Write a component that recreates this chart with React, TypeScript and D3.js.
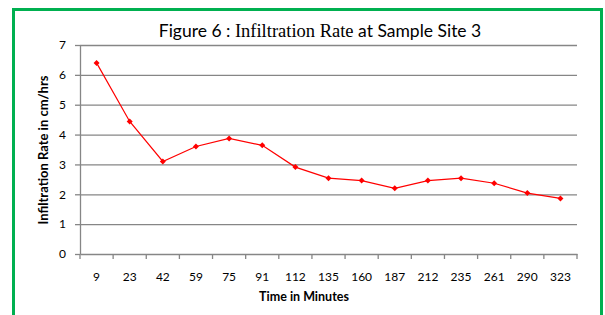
import { useEffect, useRef } from "react";
import { axisBottom, axisLeft, scaleBand, scaleLinear, select, line, symbol, symbolSquare } from "d3";

const times = ["9", "23", "42", "59", "75", "91", "112", "135", "160", "187", "212", "235", "261", "290", "323"];
const rates = [6.4, 4.44, 3.1, 3.6, 3.87, 3.64, 2.91, 2.54, 2.46, 2.2, 2.46, 2.54, 2.37, 2.04, 1.86];
const yTicks = [0, 1, 2, 3, 4, 5, 6, 7];

const grey = "#868686";
const sans = "Lato, 'Open Sans', sans-serif";

function AxisBottom({ scale, y }) {
  const ref = useRef(null);
  useEffect(() => {
    if (!ref.current) return;
    const g = select(ref.current);
    // Excel puts ticks between categories, labels in the middle
    const edges = scale.domain().map((d) => scale(d)).concat([scale.range()[1]]);
    const ax = axisBottom(scale).tickSize(0).tickPadding(18);
    g.call(ax);
    g.select(".domain").attr("stroke", grey).attr("stroke-width", 1.3);
    g.selectAll(".tick text").attr("font-family", sans).attr("font-size", 12).attr("fill", "#000");
    g.selectAll("line.edge")
      .data(edges)
      .join("line")
      .attr("class", "edge")
      .attr("x1", (d) => d)
      .attr("x2", (d) => d)
      .attr("y1", 0)
      .attr("y2", 5)
      .attr("stroke", grey)
      .attr("stroke-width", 1.3);
  }, [scale]);
  return <g ref={ref} transform={`translate(0, ${y})`} />;
}

function AxisLeft({ scale, x, width }) {
  const ref = useRef(null);
  useEffect(() => {
    if (!ref.current) return;
    const g = select(ref.current);
    g.call(
      axisLeft(scale).tickValues(yTicks).tickFormat((d) => String(d)).tickSize(5).tickPadding(9).tickSizeOuter(0)
    );
    g.select(".domain").attr("stroke", grey).attr("stroke-width", 1.3);
    g.selectAll(".tick line").attr("stroke", grey).attr("stroke-width", 1.3);
    g.selectAll(".tick text").attr("font-family", sans).attr("font-size", 12).attr("fill", "#000");
    g.selectAll(".tick")
      .filter((d) => d > 0)
      .append("line")
      .attr("x1", 0)
      .attr("x2", width)
      .attr("stroke", grey)
      .attr("stroke-width", 1.3);
  }, [scale]);
  return <g ref={ref} transform={`translate(${x}, 0)`} />;
}

export default function App() {
  const left = 80;
  const right = 577;
  const top = 45;
  const bottom = 254;

  const x = scaleBand().domain(times).range([left, right]).padding(0);
  const y = scaleLinear().domain([0, 7]).range([bottom, top]);

  const data = times.map((t, i) => ({ t, v: rates[i] }));
  const path = line()
    .x((d) => x(d.t) + x.bandwidth() / 2)
    .y((d) => y(d.v))(data);
  const marker = symbol().type(symbolSquare).size(18)();

  return (
    <svg width={605} height={315} style={{ position: "absolute", left: 0, top: 0, background: "#fff" }}>
      <rect x={0} y={0} width={605} height={315} fill="#fff" />
      <path d="M13.5 330 V9.5 H601.5 V330" fill="none" stroke="#00b050" strokeWidth={3} />

      <text x={320} y={37} textAnchor="middle" fontSize={17.5} fontFamily={sans} fill="#000">
        <tspan>Figure 6 : </tspan>
        <tspan fontFamily="'Liberation Serif', serif" fontSize={18.5}>Infiltration Rate</tspan>
        <tspan> at Sample Site 3</tspan>
      </text>

      <AxisLeft scale={y} x={left} width={right - left} />
      <AxisBottom scale={x} y={bottom} />

      <path d={path} fill="none" stroke="#ff0000" strokeWidth={1.2} />
      {data.map((d) => (
        <path
          key={d.t}
          d={marker}
          transform={`translate(${x(d.t) + x.bandwidth() / 2}, ${y(d.v)}) rotate(45)`}
          fill="#ff0000"
        />
      ))}

      <text
        transform="translate(48, 150) rotate(-90)"
        textAnchor="middle"
        fontFamily={sans}
        fontWeight="bold"
        fontSize={13}
        fill="#000"
      >
        Infiltration Rate in cm/hrs
      </text>
      <text x={304} y={301} textAnchor="middle" fontFamily={sans} fontWeight="bold" fontSize={12.5} fill="#000">
        Time in Minutes
      </text>
    </svg>
  );
}
